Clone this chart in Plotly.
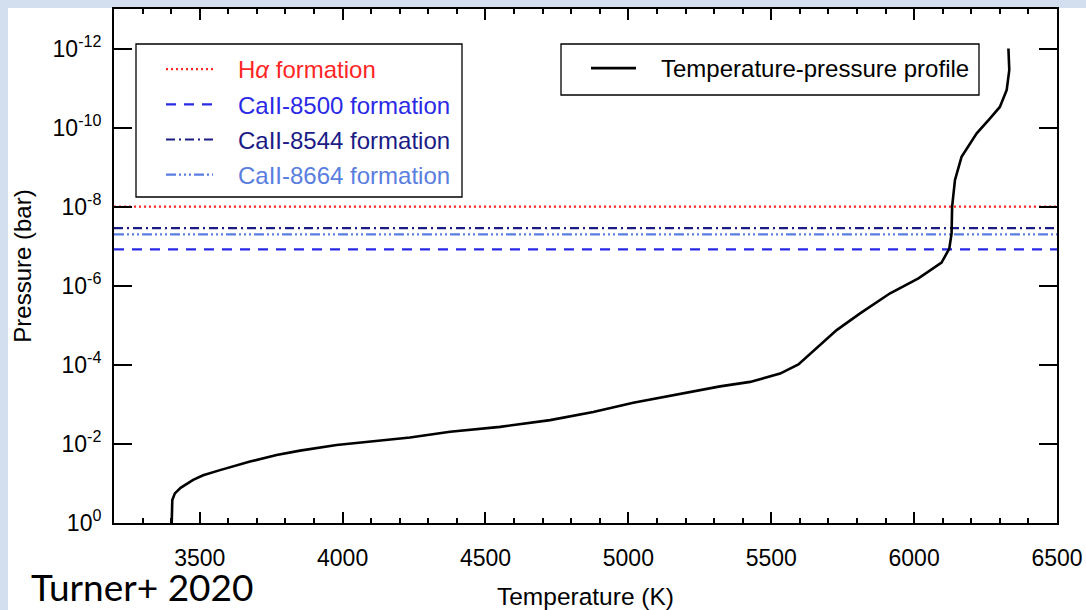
import plotly.graph_objects as go

# Temperature-pressure profile (K, bar), read from deep layers upward
temperature_k = [3402, 3404, 3413, 3433, 3477, 3512, 3571, 3676, 3769, 3851,
                 3979, 4119, 4236, 4376, 4551, 4726, 4877, 5017, 5134, 5321,
                 5426, 5531, 5595, 5659, 5729, 5811, 5916, 6015, 6096, 6123,
                 6131, 6133, 6143, 6166, 6219, 6265, 6300, 6324, 6333, 6330]
pressure_bar = [1.0, 2.63e-1, 1.78e-1, 1.29e-1, 8.1e-2, 6.2e-2, 4.6e-2, 2.8e-2, 1.9e-2, 1.48e-2,
                1.07e-2, 8.3e-3, 6.9e-3, 4.9e-3, 3.7e-3, 2.5e-3, 1.55e-3, 9.1e-4, 6.2e-4, 3.5e-4,
                2.7e-4, 1.66e-4, 9.8e-5, 3.8e-5, 1.32e-5, 5.0e-6, 1.55e-6, 6.5e-7, 2.6e-7, 1.15e-7,
                4.8e-8, 1.0e-8, 2.1e-9, 5.5e-10, 1.4e-10, 5.9e-11, 3.0e-11, 1.12e-11, 3.5e-12, 1.0e-12]

# Line-formation pressure levels
formation_labels = ["H<i>α</i> formation", "CaII-8500 formation",
                    "CaII-8544 formation", "CaII-8664 formation"]
formation_pressure_bar = [1.0e-8, 1.2e-7, 3.5e-8, 5.0e-8]
formation_colors = ["#ff2626", "#2a2ae6", "#1c1c86", "#5a7ee0"]
formation_dashes = ["2px,3px", "10px,8px", "9px,4px,2px,4px",
                    "10px,3px,2px,3px,2px,3px,2px,3px"]

temperature_range = [3200, 6500]
x_tick_vals = [3500, 4000, 4500, 5000, 5500, 6000, 6500]
y_tick_vals = [1e-12, 1e-10, 1e-8, 1e-6, 1e-4, 1e-2, 1e0]
y_tick_text = ["10<sup>-12</sup>", "10<sup>-10</sup>", "10<sup>-8</sup>", "10<sup>-6</sup>",
               "10<sup>-4</sup>", "10<sup>-2</sup>", "10<sup>0</sup>"]

FONT = "Liberation Sans, Arial, Helvetica, sans-serif"
W, H = 1086, 610
ML, MR, MT, MB = 114, 29, 9, 87
PW, PH = W - ML - MR, H - MT - MB
PAD = "\u00a0\u00a0\u00a0"  # gap between legend sample and label


def px_to_paper(px, py):
    """Convert figure pixel position to paper coordinates."""
    return (px - ML) / PW, (H - MB - py) / PH


fig = go.Figure()

for i, (label, p, color, dash) in enumerate(zip(formation_labels, formation_pressure_bar,
                                                formation_colors, formation_dashes)):
    fig.add_trace(go.Scatter(
        x=temperature_range, y=[p, p], mode="lines",
        line=dict(color=color, width=2.2, dash=dash),
        name=f"{PAD}<span style='color:{color}'>{label}</span>",
        legend="legend", legendgroup=f"f{i}", hoverinfo="skip",
    ))

fig.add_trace(go.Scatter(
    x=temperature_k, y=pressure_bar, mode="lines",
    line=dict(color="black", width=2.6),
    name=f"{PAD}Temperature-pressure profile", legend="legend2",
))

axis_common = dict(
    showline=True, linecolor="black", linewidth=2, mirror="allticks",
    ticks="inside", tickcolor="black", tickwidth=1.5,
    showgrid=False, zeroline=False, automargin=False,
    tickfont=dict(family=FONT, size=23, color="black"),
)

fig.update_xaxes(
    range=temperature_range, tickvals=x_tick_vals, ticklen=11,
    minor=dict(dtick=100, ticks="inside", ticklen=5, tickcolor="black", tickwidth=1.5),
    ticklabelstandoff=13,
    title=dict(text="Temperature (K)", font=dict(family=FONT, size=24.5, color="black"), standoff=18),
    **axis_common,
)
fig.update_yaxes(
    type="log", range=[0, -13], tickvals=y_tick_vals, ticktext=y_tick_text, ticklen=18,
    ticklabelstandoff=6,
    title=dict(text="Pressure (bar)", font=dict(family=FONT, size=24, color="black"), standoff=14),
    **axis_common,
)

legend_common = dict(
    bgcolor="rgba(0,0,0,0)", borderwidth=0,
    font=dict(family=FONT, size=24, color="black"),
    xanchor="left", yanchor="top", tracegroupgap=1,
)

l1x, l1y = px_to_paper(161, 47)
l2x, l2y = px_to_paper(586, 46)
b1x0, b1y0 = px_to_paper(136, 197)
b1x1, b1y1 = px_to_paper(462, 44)
b2x0, b2y0 = px_to_paper(561, 95)
b2x1, b2y1 = px_to_paper(979, 44)
bgx0, bgy1 = px_to_paper(8, 8)
bgx1, bgy0 = px_to_paper(W + 5, H + 5)
tx, ty = px_to_paper(29, 611)

fig.update_layout(
    width=W, height=H, autosize=False,
    margin=dict(l=ML, r=MR, t=MT, b=MB),
    paper_bgcolor="#d3dfee", plot_bgcolor="white",
    showlegend=True,
    legend=dict(x=l1x, y=l1y, itemwidth=47, **legend_common),
    legend2=dict(x=l2x, y=l2y, itemwidth=45, **legend_common),
    shapes=[
        dict(type="rect", xref="paper", yref="paper",
             x0=bgx0, x1=bgx1, y0=bgy0, y1=bgy1,
             fillcolor="white", line=dict(width=0), layer="below"),
        dict(type="rect", xref="paper", yref="paper",
             x0=b1x0, x1=b1x1, y0=b1y0, y1=b1y1,
             fillcolor="white", line=dict(color="black", width=1.3), layer="above"),
        dict(type="rect", xref="paper", yref="paper",
             x0=b2x0, x1=b2x1, y0=b2y0, y1=b2y1,
             fillcolor="white", line=dict(color="black", width=1.3), layer="above"),
    ],
    annotations=[dict(text="Turner+ 2020", xref="paper", yref="paper",
                      x=tx, y=ty, xanchor="left", yanchor="bottom",
                      showarrow=False,
                      font=dict(family="Lato, Carlito, Calibri, sans-serif", size=37, color="black"))],
)

fig.write_html("out.html")
